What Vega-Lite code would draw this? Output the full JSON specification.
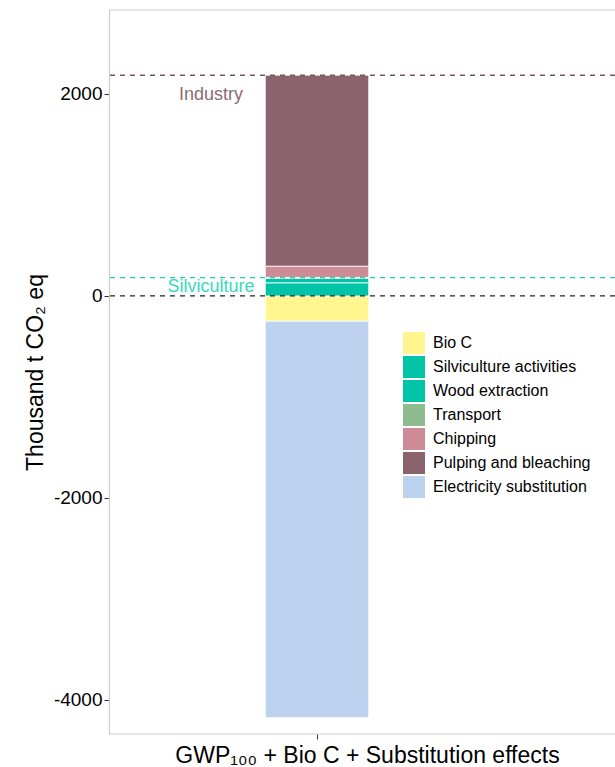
{
  "$schema": "https://vega.github.io/schema/vega-lite/v6.json",
  "autosize": {"type": "none"},
  "width": 506,
  "height": 724,
  "padding": {"left": 109, "top": 10, "right": 0, "bottom": 33},
  "background": "white",
  "config": {
    "view": {"stroke": null},
    "font": "Liberation Sans",
    "axis": {"grid": false, "labelFont": "Liberation Sans", "titleFont": "Liberation Sans"}
  },
  "datasets": {
    "bars": [
      {"scenario": "GWP₁₀₀ + Bio C + Substitution effects", "component": "Bio C", "ord": 0, "value": -250},
      {"scenario": "GWP₁₀₀ + Bio C + Substitution effects", "component": "Silviculture activities", "ord": 1, "value": 130},
      {"scenario": "GWP₁₀₀ + Bio C + Substitution effects", "component": "Wood extraction", "ord": 2, "value": 45},
      {"scenario": "GWP₁₀₀ + Bio C + Substitution effects", "component": "Transport", "ord": 3, "value": 8},
      {"scenario": "GWP₁₀₀ + Bio C + Substitution effects", "component": "Chipping", "ord": 4, "value": 112},
      {"scenario": "GWP₁₀₀ + Bio C + Substitution effects", "component": "Pulping and bleaching", "ord": 5, "value": 1890},
      {"scenario": "GWP₁₀₀ + Bio C + Substitution effects", "component": "Electricity substitution", "ord": 6, "value": -3925}
    ],
    "refs": [
      {"scenario": "GWP₁₀₀ + Bio C + Substitution effects", "label": "Industry", "value": 2185, "text_y": 1985},
      {"scenario": "GWP₁₀₀ + Bio C + Substitution effects", "label": "Silviculture", "value": 181, "text_y": 90},
      {"scenario": "GWP₁₀₀ + Bio C + Substitution effects", "label": "Zero", "value": 0, "text_y": 0}
    ],
    "frame": [
      {"edge": "top", "value": 2831},
      {"edge": "bottom", "value": -4337}
    ]
  },
  "layer": [
    {
      "data": {"name": "frame"},
      "mark": {"type": "rule", "color": "#cccccc", "strokeWidth": 1.2},
      "encoding": {
        "y": {"field": "value", "type": "quantitative", "scale": {"domain": [-4337, 2831], "nice": false, "zero": false}}
      }
    },
    {
      "data": {"name": "bars"},
      "mark": {"type": "bar", "stroke": "white", "strokeWidth": 0.8, "width": {"band": 0.746}},
      "encoding": {
        "x": {
          "field": "scenario", "type": "nominal",
          "scale": {"range": [0, 416], "paddingInner": 0, "paddingOuter": 1.52},
          "axis": {"title": "GWP₁₀₀ + Bio C + Substitution effects", "titleFontSize": 23, "titleFontWeight": "normal", "titleColor": "#000000", "titleX": 258, "titleY": 28, "titleBaseline": "alphabetic", "titleAnchor": "middle", "titleAlign": "center", "labels": false, "domain": false, "tickColor": "#333333", "tickSize": 5}
        },
        "y": {
          "field": "value", "type": "quantitative", "stack": "zero",
          "scale": {"domain": [-4337, 2831], "nice": false, "zero": false},
          "axis": {"title": "Thousand t CO₂ eq", "titleFontSize": 23, "titleFontWeight": "normal", "titleColor": "#000000", "titlePadding": 6, "values": [-4000, -2000, 0, 2000], "labelExpr": "'' + datum.value", "labelFontSize": 19, "labelColor": "#000000", "domainColor": "#cccccc", "domainWidth": 1.2, "tickColor": "#333333", "tickSize": 5, "labelPadding": 2}
        },
        "color": {
          "field": "component", "type": "nominal",
          "scale": {
            "domain": ["Bio C", "Silviculture activities", "Wood extraction", "Transport", "Chipping", "Pulping and bleaching", "Electricity substitution"],
            "range": ["#FFF68F", "#00C4A8", "#00C4A8", "#8FBC8F", "#CD8C95", "#8B636C", "#BCD2EE"]
          },
          "legend": {
            "title": null, "orient": "none", "legendX": 294, "legendY": 322,
            "symbolType": "square", "symbolSize": 484, "symbolStrokeWidth": 0, "symbolOpacity": 1,
            "labelFontSize": 16, "labelColor": "#000000", "labelFont": "Liberation Sans", "labelOffset": 8, "rowPadding": 2, "labelLimit": 400
          }
        },
        "order": {"field": "ord", "type": "quantitative"}
      }
    },
    {
      "data": {"name": "refs"},
      "mark": {"type": "rule", "strokeDash": [5, 5], "strokeWidth": 1.3},
      "encoding": {
        "y": {"field": "value", "type": "quantitative"},
        "color": {
          "field": "label", "type": "nominal",
          "scale": {"domain": ["Industry", "Silviculture", "Zero"], "range": ["#7A5560", "#1FD0B0", "#222222"]},
          "legend": null
        }
      }
    },
    {
      "data": {"name": "refs"},
      "transform": [{"filter": "datum.label !== 'Zero'"}],
      "mark": {"type": "text", "fontSize": 18, "dx": -106, "baseline": "middle", "align": "center", "font": "Liberation Sans"},
      "encoding": {
        "x": {"field": "scenario", "type": "nominal"},
        "y": {"field": "text_y", "type": "quantitative"},
        "text": {"field": "label"},
        "color": {
          "field": "label", "type": "nominal",
          "scale": {"domain": ["Industry", "Silviculture", "Zero"], "range": ["#8B6A72", "#3AD8BC", "#333333"]},
          "legend": null
        }
      }
    }
  ],
  "resolve": {"scale": {"color": "independent"}, "legend": {"color": "independent"}}
}
